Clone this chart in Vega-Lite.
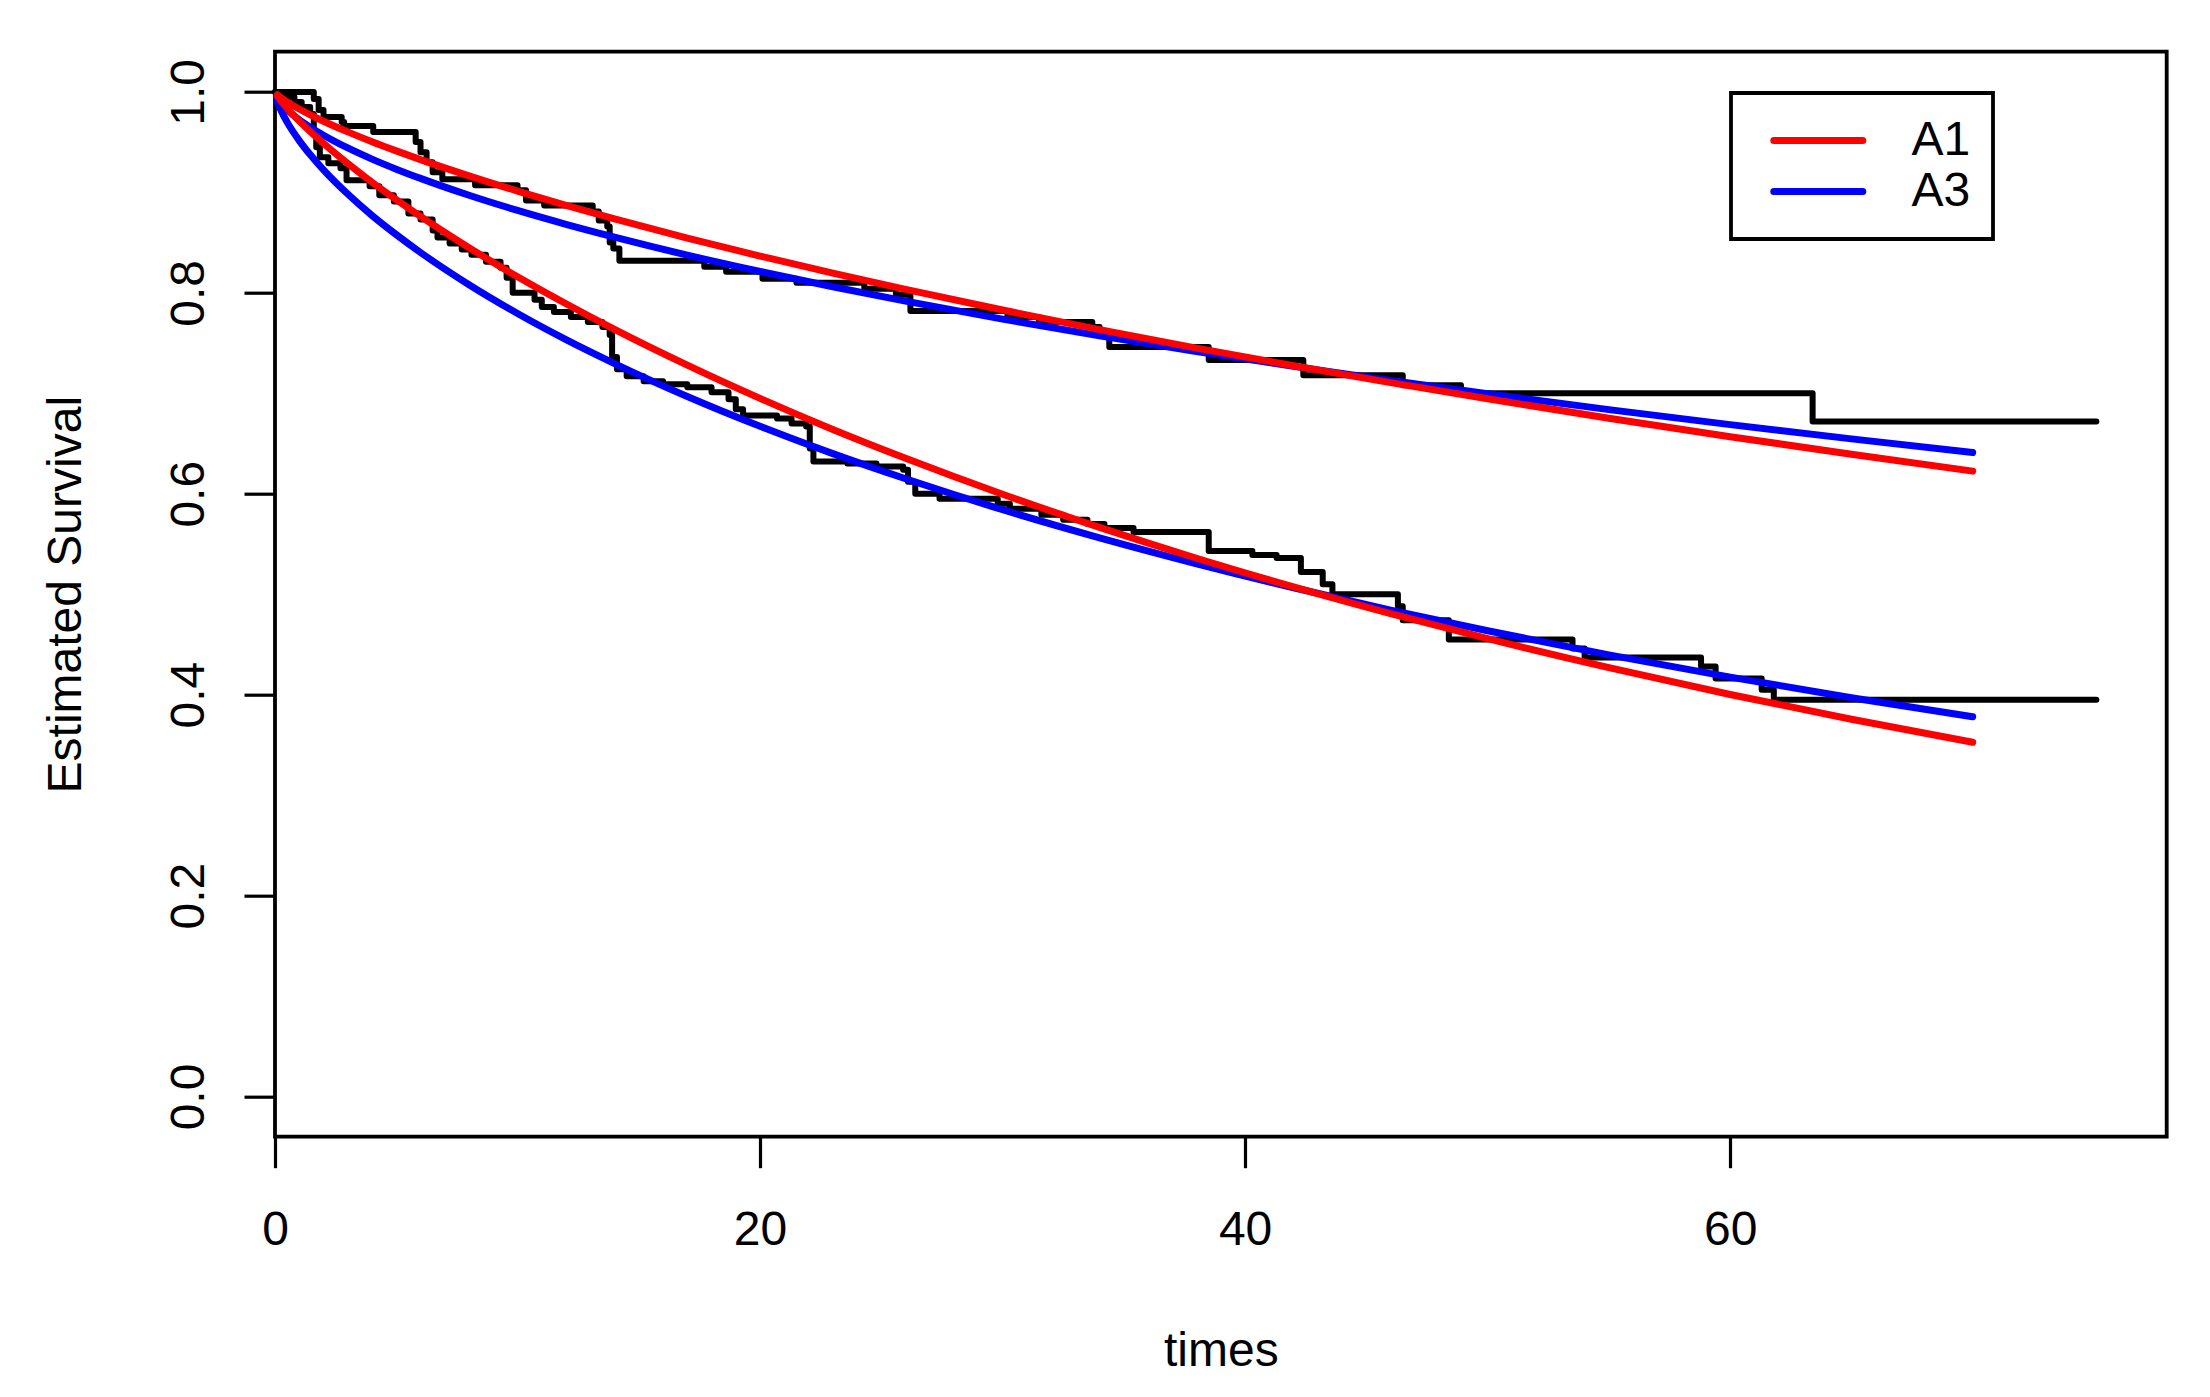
{
  "$schema": "https://vega.github.io/schema/vega-lite/v6.json",
  "width": 1891.7,
  "height": 1085,
  "autosize": {"type": "none"},
  "padding": {"left": 275, "top": 51.7, "right": 43.3, "bottom": 260.3},
  "background": "white",
  "config": {
    "font": "Liberation Sans",
    "view": {"stroke": "black", "strokeWidth": 3.8, "fill": "white"}
  },
  "datasets": {
    "km": [
      {"time": 0, "surv": 1.0, "curve": "upper"},
      {"time": 1.6, "surv": 0.993, "curve": "upper"},
      {"time": 1.8, "surv": 0.982, "curve": "upper"},
      {"time": 2.0, "surv": 0.975, "curve": "upper"},
      {"time": 2.75, "surv": 0.97, "curve": "upper"},
      {"time": 2.85, "surv": 0.966, "curve": "upper"},
      {"time": 4.05, "surv": 0.96, "curve": "upper"},
      {"time": 5.8, "surv": 0.95, "curve": "upper"},
      {"time": 6.0, "surv": 0.94, "curve": "upper"},
      {"time": 6.25, "surv": 0.93, "curve": "upper"},
      {"time": 6.5, "surv": 0.92, "curve": "upper"},
      {"time": 6.9, "surv": 0.913, "curve": "upper"},
      {"time": 8.25, "surv": 0.907, "curve": "upper"},
      {"time": 10.0, "surv": 0.902, "curve": "upper"},
      {"time": 10.35, "surv": 0.892, "curve": "upper"},
      {"time": 11.1, "surv": 0.887, "curve": "upper"},
      {"time": 13.1, "surv": 0.881, "curve": "upper"},
      {"time": 13.35, "surv": 0.872, "curve": "upper"},
      {"time": 13.7, "surv": 0.866, "curve": "upper"},
      {"time": 13.8, "surv": 0.85, "curve": "upper"},
      {"time": 13.95, "surv": 0.844, "curve": "upper"},
      {"time": 14.2, "surv": 0.832, "curve": "upper"},
      {"time": 17.7, "surv": 0.826, "curve": "upper"},
      {"time": 18.6, "surv": 0.821, "curve": "upper"},
      {"time": 20.1, "surv": 0.814, "curve": "upper"},
      {"time": 21.5, "surv": 0.81, "curve": "upper"},
      {"time": 24.3, "surv": 0.804, "curve": "upper"},
      {"time": 25.6, "surv": 0.798, "curve": "upper"},
      {"time": 26.2, "surv": 0.782, "curve": "upper"},
      {"time": 30.2, "surv": 0.776, "curve": "upper"},
      {"time": 31.5, "surv": 0.771, "curve": "upper"},
      {"time": 33.7, "surv": 0.766, "curve": "upper"},
      {"time": 34.0, "surv": 0.757, "curve": "upper"},
      {"time": 34.4, "surv": 0.746, "curve": "upper"},
      {"time": 38.5, "surv": 0.733, "curve": "upper"},
      {"time": 42.4, "surv": 0.718, "curve": "upper"},
      {"time": 46.5, "surv": 0.708, "curve": "upper"},
      {"time": 48.9, "surv": 0.7, "curve": "upper"},
      {"time": 63.4, "surv": 0.672, "curve": "upper"},
      {"time": 75.1, "surv": 0.672, "curve": "upper"},
      {"time": 0, "surv": 1.0, "curve": "lower"},
      {"time": 0.4, "surv": 0.995, "curve": "lower"},
      {"time": 0.8, "surv": 0.99, "curve": "lower"},
      {"time": 1.1, "surv": 0.985, "curve": "lower"},
      {"time": 1.45, "surv": 0.978, "curve": "lower"},
      {"time": 1.6, "surv": 0.96, "curve": "lower"},
      {"time": 1.7, "surv": 0.945, "curve": "lower"},
      {"time": 1.85, "surv": 0.935, "curve": "lower"},
      {"time": 2.2, "surv": 0.929, "curve": "lower"},
      {"time": 2.7, "surv": 0.924, "curve": "lower"},
      {"time": 2.95, "surv": 0.912, "curve": "lower"},
      {"time": 3.9, "surv": 0.906, "curve": "lower"},
      {"time": 4.3, "surv": 0.897, "curve": "lower"},
      {"time": 4.9, "surv": 0.891, "curve": "lower"},
      {"time": 5.5, "surv": 0.879, "curve": "lower"},
      {"time": 6.0, "surv": 0.873, "curve": "lower"},
      {"time": 6.5, "surv": 0.862, "curve": "lower"},
      {"time": 6.7, "surv": 0.855, "curve": "lower"},
      {"time": 7.2, "surv": 0.849, "curve": "lower"},
      {"time": 7.7, "surv": 0.843, "curve": "lower"},
      {"time": 8.1, "surv": 0.838, "curve": "lower"},
      {"time": 8.7, "surv": 0.831, "curve": "lower"},
      {"time": 9.3, "surv": 0.825, "curve": "lower"},
      {"time": 9.55, "surv": 0.815, "curve": "lower"},
      {"time": 9.8, "surv": 0.8, "curve": "lower"},
      {"time": 10.7, "surv": 0.793, "curve": "lower"},
      {"time": 11.0, "surv": 0.786, "curve": "lower"},
      {"time": 11.5, "surv": 0.781, "curve": "lower"},
      {"time": 12.2, "surv": 0.776, "curve": "lower"},
      {"time": 12.9, "surv": 0.771, "curve": "lower"},
      {"time": 13.5, "surv": 0.766, "curve": "lower"},
      {"time": 13.8, "surv": 0.758, "curve": "lower"},
      {"time": 13.9, "surv": 0.736, "curve": "lower"},
      {"time": 14.1, "surv": 0.724, "curve": "lower"},
      {"time": 14.5, "surv": 0.717, "curve": "lower"},
      {"time": 15.2, "surv": 0.712, "curve": "lower"},
      {"time": 16.0, "surv": 0.709, "curve": "lower"},
      {"time": 17.0, "surv": 0.706, "curve": "lower"},
      {"time": 18.0, "surv": 0.701, "curve": "lower"},
      {"time": 18.7, "surv": 0.694, "curve": "lower"},
      {"time": 19.0, "surv": 0.684, "curve": "lower"},
      {"time": 19.3, "surv": 0.678, "curve": "lower"},
      {"time": 20.7, "surv": 0.675, "curve": "lower"},
      {"time": 21.3, "surv": 0.67, "curve": "lower"},
      {"time": 21.9, "surv": 0.667, "curve": "lower"},
      {"time": 22.05, "surv": 0.645, "curve": "lower"},
      {"time": 22.2, "surv": 0.632, "curve": "lower"},
      {"time": 23.6, "surv": 0.63, "curve": "lower"},
      {"time": 24.8, "surv": 0.627, "curve": "lower"},
      {"time": 25.9, "surv": 0.624, "curve": "lower"},
      {"time": 26.1, "surv": 0.612, "curve": "lower"},
      {"time": 26.4, "surv": 0.6, "curve": "lower"},
      {"time": 27.4, "surv": 0.595, "curve": "lower"},
      {"time": 29.8, "surv": 0.59, "curve": "lower"},
      {"time": 30.3, "surv": 0.585, "curve": "lower"},
      {"time": 31.6, "surv": 0.579, "curve": "lower"},
      {"time": 32.5, "surv": 0.574, "curve": "lower"},
      {"time": 33.5, "surv": 0.57, "curve": "lower"},
      {"time": 34.2, "surv": 0.566, "curve": "lower"},
      {"time": 35.4, "surv": 0.562, "curve": "lower"},
      {"time": 38.5, "surv": 0.543, "curve": "lower"},
      {"time": 40.3, "surv": 0.539, "curve": "lower"},
      {"time": 41.3, "surv": 0.536, "curve": "lower"},
      {"time": 42.3, "surv": 0.522, "curve": "lower"},
      {"time": 43.2, "surv": 0.51, "curve": "lower"},
      {"time": 43.6, "surv": 0.5, "curve": "lower"},
      {"time": 46.3, "surv": 0.488, "curve": "lower"},
      {"time": 46.5, "surv": 0.474, "curve": "lower"},
      {"time": 48.4, "surv": 0.455, "curve": "lower"},
      {"time": 53.5, "surv": 0.446, "curve": "lower"},
      {"time": 54.0, "surv": 0.437, "curve": "lower"},
      {"time": 58.8, "surv": 0.428, "curve": "lower"},
      {"time": 59.4, "surv": 0.416, "curve": "lower"},
      {"time": 61.3, "surv": 0.405, "curve": "lower"},
      {"time": 61.8, "surv": 0.395, "curve": "lower"},
      {"time": 75.1, "surv": 0.395, "curve": "lower"}
    ],
    "fitA3": [
      {"time": 0.1, "surv": 0.9937, "model": "A3", "curve": "upper"},
      {"time": 0.25, "surv": 0.9887, "model": "A3", "curve": "upper"},
      {"time": 0.5, "surv": 0.9823, "model": "A3", "curve": "upper"},
      {"time": 1, "surv": 0.9723, "model": "A3", "curve": "upper"},
      {"time": 1.5, "surv": 0.9641, "model": "A3", "curve": "upper"},
      {"time": 2, "surv": 0.9569, "model": "A3", "curve": "upper"},
      {"time": 3, "surv": 0.9442, "model": "A3", "curve": "upper"},
      {"time": 4, "surv": 0.9331, "model": "A3", "curve": "upper"},
      {"time": 5, "surv": 0.9231, "model": "A3", "curve": "upper"},
      {"time": 6, "surv": 0.9139, "model": "A3", "curve": "upper"},
      {"time": 8, "surv": 0.8971, "model": "A3", "curve": "upper"},
      {"time": 10, "surv": 0.882, "model": "A3", "curve": "upper"},
      {"time": 12, "surv": 0.8682, "model": "A3", "curve": "upper"},
      {"time": 14, "surv": 0.8554, "model": "A3", "curve": "upper"},
      {"time": 17, "surv": 0.8375, "model": "A3", "curve": "upper"},
      {"time": 20, "surv": 0.8212, "model": "A3", "curve": "upper"},
      {"time": 23, "surv": 0.806, "model": "A3", "curve": "upper"},
      {"time": 26, "surv": 0.7917, "model": "A3", "curve": "upper"},
      {"time": 30, "surv": 0.7738, "model": "A3", "curve": "upper"},
      {"time": 34, "surv": 0.7572, "model": "A3", "curve": "upper"},
      {"time": 38, "surv": 0.7416, "model": "A3", "curve": "upper"},
      {"time": 42, "surv": 0.7268, "model": "A3", "curve": "upper"},
      {"time": 46, "surv": 0.7128, "model": "A3", "curve": "upper"},
      {"time": 50, "surv": 0.6995, "model": "A3", "curve": "upper"},
      {"time": 55, "surv": 0.6837, "model": "A3", "curve": "upper"},
      {"time": 60, "surv": 0.6688, "model": "A3", "curve": "upper"},
      {"time": 65, "surv": 0.6546, "model": "A3", "curve": "upper"},
      {"time": 70, "surv": 0.641, "model": "A3", "curve": "upper"},
      {"time": 0.1, "surv": 0.9901, "model": "A3", "curve": "lower"},
      {"time": 0.25, "surv": 0.9813, "model": "A3", "curve": "lower"},
      {"time": 0.5, "surv": 0.9699, "model": "A3", "curve": "lower"},
      {"time": 1, "surv": 0.9515, "model": "A3", "curve": "lower"},
      {"time": 1.5, "surv": 0.9361, "model": "A3", "curve": "lower"},
      {"time": 2, "surv": 0.9224, "model": "A3", "curve": "lower"},
      {"time": 3, "surv": 0.8983, "model": "A3", "curve": "lower"},
      {"time": 4, "surv": 0.877, "model": "A3", "curve": "lower"},
      {"time": 5, "surv": 0.8579, "model": "A3", "curve": "lower"},
      {"time": 6, "surv": 0.8401, "model": "A3", "curve": "lower"},
      {"time": 8, "surv": 0.808, "model": "A3", "curve": "lower"},
      {"time": 10, "surv": 0.7794, "model": "A3", "curve": "lower"},
      {"time": 12, "surv": 0.7534, "model": "A3", "curve": "lower"},
      {"time": 14, "surv": 0.7296, "model": "A3", "curve": "lower"},
      {"time": 17, "surv": 0.6968, "model": "A3", "curve": "lower"},
      {"time": 20, "surv": 0.6671, "model": "A3", "curve": "lower"},
      {"time": 23, "surv": 0.6399, "model": "A3", "curve": "lower"},
      {"time": 26, "surv": 0.6149, "model": "A3", "curve": "lower"},
      {"time": 30, "surv": 0.5841, "model": "A3", "curve": "lower"},
      {"time": 34, "surv": 0.5561, "model": "A3", "curve": "lower"},
      {"time": 38, "surv": 0.5303, "model": "A3", "curve": "lower"},
      {"time": 42, "surv": 0.5064, "model": "A3", "curve": "lower"},
      {"time": 46, "surv": 0.4842, "model": "A3", "curve": "lower"},
      {"time": 50, "surv": 0.4636, "model": "A3", "curve": "lower"},
      {"time": 55, "surv": 0.4396, "model": "A3", "curve": "lower"},
      {"time": 60, "surv": 0.4175, "model": "A3", "curve": "lower"},
      {"time": 65, "surv": 0.397, "model": "A3", "curve": "lower"},
      {"time": 70, "surv": 0.378, "model": "A3", "curve": "lower"}
    ],
    "fitA1": [
      {"time": 0.1, "surv": 0.9971, "model": "A1", "curve": "upper"},
      {"time": 0.25, "surv": 0.9942, "model": "A1", "curve": "upper"},
      {"time": 0.5, "surv": 0.99, "model": "A1", "curve": "upper"},
      {"time": 1, "surv": 0.9829, "model": "A1", "curve": "upper"},
      {"time": 1.5, "surv": 0.9766, "model": "A1", "curve": "upper"},
      {"time": 2, "surv": 0.9708, "model": "A1", "curve": "upper"},
      {"time": 3, "surv": 0.9602, "model": "A1", "curve": "upper"},
      {"time": 4, "surv": 0.9504, "model": "A1", "curve": "upper"},
      {"time": 5, "surv": 0.9413, "model": "A1", "curve": "upper"},
      {"time": 6, "surv": 0.9326, "model": "A1", "curve": "upper"},
      {"time": 8, "surv": 0.9164, "model": "A1", "curve": "upper"},
      {"time": 10, "surv": 0.9013, "model": "A1", "curve": "upper"},
      {"time": 12, "surv": 0.8871, "model": "A1", "curve": "upper"},
      {"time": 14, "surv": 0.8736, "model": "A1", "curve": "upper"},
      {"time": 17, "surv": 0.8545, "model": "A1", "curve": "upper"},
      {"time": 20, "surv": 0.8366, "model": "A1", "curve": "upper"},
      {"time": 23, "surv": 0.8196, "model": "A1", "curve": "upper"},
      {"time": 26, "surv": 0.8034, "model": "A1", "curve": "upper"},
      {"time": 30, "surv": 0.7829, "model": "A1", "curve": "upper"},
      {"time": 34, "surv": 0.7634, "model": "A1", "curve": "upper"},
      {"time": 38, "surv": 0.745, "model": "A1", "curve": "upper"},
      {"time": 42, "surv": 0.7274, "model": "A1", "curve": "upper"},
      {"time": 46, "surv": 0.7106, "model": "A1", "curve": "upper"},
      {"time": 50, "surv": 0.6945, "model": "A1", "curve": "upper"},
      {"time": 55, "surv": 0.6752, "model": "A1", "curve": "upper"},
      {"time": 60, "surv": 0.6568, "model": "A1", "curve": "upper"},
      {"time": 65, "surv": 0.6393, "model": "A1", "curve": "upper"},
      {"time": 70, "surv": 0.6225, "model": "A1", "curve": "upper"},
      {"time": 0.1, "surv": 0.9958, "model": "A1", "curve": "lower"},
      {"time": 0.25, "surv": 0.9909, "model": "A1", "curve": "lower"},
      {"time": 0.5, "surv": 0.9837, "model": "A1", "curve": "lower"},
      {"time": 1, "surv": 0.971, "model": "A1", "curve": "lower"},
      {"time": 1.5, "surv": 0.9595, "model": "A1", "curve": "lower"},
      {"time": 2, "surv": 0.9488, "model": "A1", "curve": "lower"},
      {"time": 3, "surv": 0.9287, "model": "A1", "curve": "lower"},
      {"time": 4, "surv": 0.9101, "model": "A1", "curve": "lower"},
      {"time": 5, "surv": 0.8927, "model": "A1", "curve": "lower"},
      {"time": 6, "surv": 0.876, "model": "A1", "curve": "lower"},
      {"time": 8, "surv": 0.8449, "model": "A1", "curve": "lower"},
      {"time": 10, "surv": 0.816, "model": "A1", "curve": "lower"},
      {"time": 12, "surv": 0.7891, "model": "A1", "curve": "lower"},
      {"time": 14, "surv": 0.7636, "model": "A1", "curve": "lower"},
      {"time": 17, "surv": 0.728, "model": "A1", "curve": "lower"},
      {"time": 20, "surv": 0.6949, "model": "A1", "curve": "lower"},
      {"time": 23, "surv": 0.664, "model": "A1", "curve": "lower"},
      {"time": 26, "surv": 0.6353, "model": "A1", "curve": "lower"},
      {"time": 30, "surv": 0.5995, "model": "A1", "curve": "lower"},
      {"time": 34, "surv": 0.5665, "model": "A1", "curve": "lower"},
      {"time": 38, "surv": 0.5358, "model": "A1", "curve": "lower"},
      {"time": 42, "surv": 0.5073, "model": "A1", "curve": "lower"},
      {"time": 46, "surv": 0.4807, "model": "A1", "curve": "lower"},
      {"time": 50, "surv": 0.4558, "model": "A1", "curve": "lower"},
      {"time": 55, "surv": 0.4269, "model": "A1", "curve": "lower"},
      {"time": 60, "surv": 0.4002, "model": "A1", "curve": "lower"},
      {"time": 65, "surv": 0.3755, "model": "A1", "curve": "lower"},
      {"time": 70, "surv": 0.3526, "model": "A1", "curve": "lower"}
    ]
  },
  "encoding": {
    "x": {
      "field": "time",
      "type": "quantitative",
      "title": "times",
      "scale": {"domain": [0, 78], "nice": false, "zero": false},
      "axis": {
        "values": [0, 20, 40, 60],
        "format": "d",
        "grid": false,
        "domain": false,
        "tickSize": 31,
        "tickWidth": 3.2,
        "tickColor": "black",
        "labelFont": "Liberation Sans",
        "labelFontSize": 48,
        "labelColor": "black",
        "labelAngle": 0,
        "labelAlign": "center",
        "labelBaseline": "alphabetic",
        "labelPadding": 77,
        "labelOverlap": false,
        "labelFlush": false,
        "labelBound": false,
        "titleFont": "Liberation Sans",
        "titleFontSize": 48,
        "titleFontWeight": "normal",
        "titleColor": "black",
        "titleAlign": "center",
        "titleBaseline": "alphabetic",
        "titleX": 945.85,
        "titleY": 229
      }
    },
    "y": {
      "field": "surv",
      "type": "quantitative",
      "title": "Estimated Survival",
      "scale": {"domain": [-0.04, 1.04], "nice": false, "zero": false},
      "axis": {
        "values": [0, 0.2, 0.4, 0.6, 0.8, 1],
        "format": ".1f",
        "grid": false,
        "domain": false,
        "tickSize": 31,
        "tickWidth": 3.2,
        "tickColor": "black",
        "labelFont": "Liberation Sans",
        "labelFontSize": 48,
        "labelColor": "black",
        "labelAngle": 270,
        "labelAlign": "center",
        "labelBaseline": "alphabetic",
        "labelPadding": 41,
        "labelOverlap": false,
        "labelFlush": false,
        "labelBound": false,
        "titleFont": "Liberation Sans",
        "titleFontSize": 48,
        "titleFontWeight": "normal",
        "titleColor": "black",
        "titleAngle": 270,
        "titleAlign": "center",
        "titleBaseline": "alphabetic",
        "titleX": -195,
        "titleY": 542.5
      }
    }
  },
  "layer": [
    {
      "data": {"name": "km"},
      "mark": {"type": "line", "interpolate": "step-after", "color": "black", "strokeWidth": 6, "strokeCap": "round", "strokeJoin": "round"},
      "encoding": {"detail": {"field": "curve"}}
    },
    {
      "data": {"name": "fitA3"},
      "mark": {"type": "line", "interpolate": "monotone", "strokeWidth": 7, "strokeCap": "round", "strokeJoin": "round"},
      "encoding": {
        "detail": {"field": "curve"},
        "color": {
          "field": "model",
          "type": "nominal",
          "scale": {"domain": ["A1", "A3"], "range": ["#ff0000", "#0000ff"]},
          "legend": {
            "title": null,
            "orient": "none",
            "legendX": 1456,
            "legendY": 41.3,
            "direction": "vertical",
            "strokeColor": "black",
            "fillColor": "white",
            "cornerRadius": 0,
            "padding": 22,
            "symbolType": "stroke",
            "symbolSize": 7921,
            "symbolStrokeWidth": 7,
            "symbolOffset": 17.3,
            "labelOffset": 45.1,
            "labelFont": "Liberation Sans",
            "labelFontSize": 48,
            "labelColor": "black",
            "labelBaseline": "middle",
            "clipHeight": 51,
            "rowPadding": -3.8,
            "encode": {
              "legend": {"update": {"strokeWidth": {"value": 3.8}}},
              "symbols": {"update": {"strokeCap": {"value": "round"}}}
            }
          }
        }
      }
    },
    {
      "data": {"name": "fitA1"},
      "mark": {"type": "line", "interpolate": "monotone", "strokeWidth": 7, "strokeCap": "round", "strokeJoin": "round"},
      "encoding": {
        "detail": {"field": "curve"},
        "color": {"field": "model", "type": "nominal"}
      }
    }
  ]
}
